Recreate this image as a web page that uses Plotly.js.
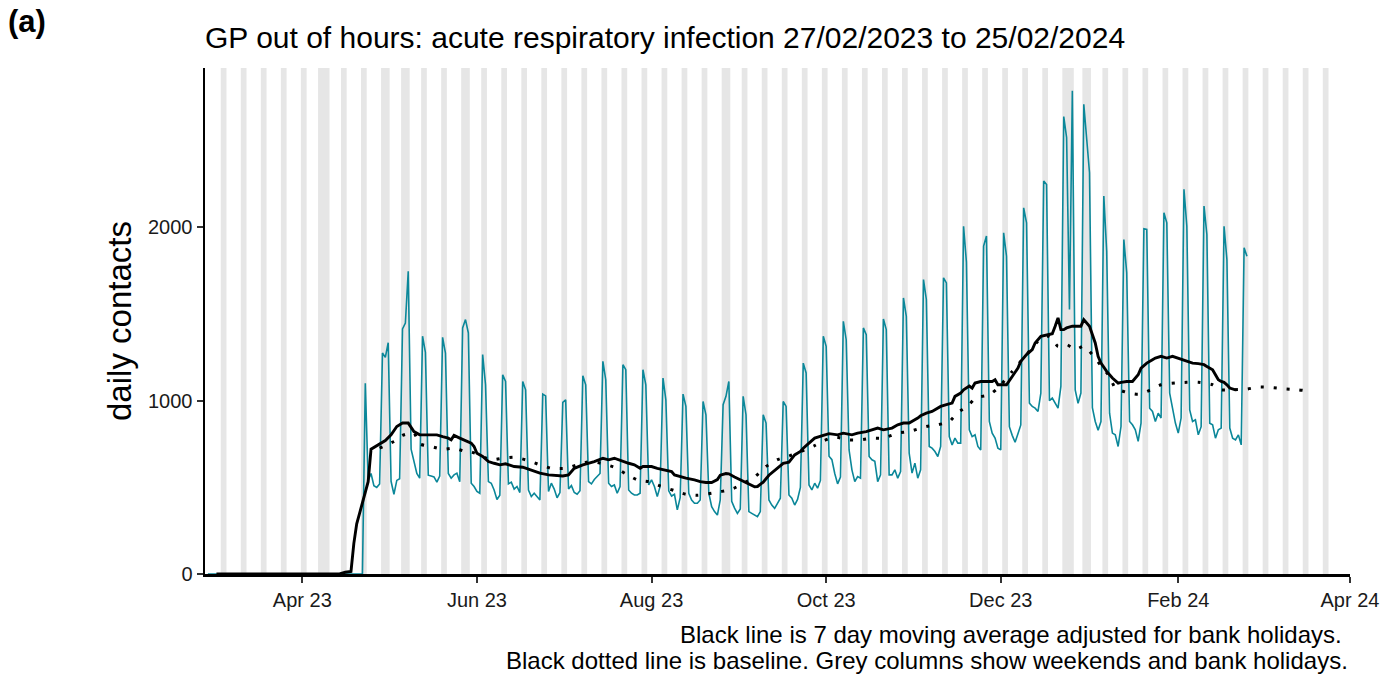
<!DOCTYPE html>
<html><head><meta charset="utf-8">
<script src="https://cdn.plot.ly/plotly-3.0.1.min.js"></script>
<style>html,body{margin:0;padding:0;background:#fff}#chart{width:1391px;height:675px}</style>
</head><body><div id="chart"></div>
<script>
// ---------------- DATA ----------------
const seriesStart = "2023-02-27"; // first day of daily series (Monday)
// daily contacts, one row per week Mon..Sun
const dailyContacts = [
  0,0,0,0,0,0,0,            // 27 Feb
  0,0,0,0,0,0,0,            // 6 Mar
  0,0,0,0,0,0,0,            // 13 Mar
  0,0,0,0,0,0,0,            // 20 Mar
  0,0,0,0,0,0,0,            // 27 Mar
  0,0,0,0,0,0,0,            // 3 Apr
  0,0,0,0,0,0,0,            // 10 Apr
  0,0,0,0,0,0,1100,         // 17 Apr
  540,580,510,500,520,1275,1250,   // 24 Apr
  1335,535,460,540,550,1414,1448,  // 1 May
  1747,720,650,580,553,1372,1279,  // 8 May
  570,565,560,530,565,1366,1275,   // 15 May
  580,553,572,582,533,1420,1468,   // 22 May
  1391,524,505,476,466,1266,1092,  // 29 May
  533,524,485,430,455,1150,1111,   // 5 Jun
  520,530,490,505,470,1111,1063,   // 12 Jun
  485,447,466,447,427,1038,1028,   // 19 Jun
  476,524,490,440,470,990,1005,    // 26 Jun
  490,510,470,460,480,1144,1092,   // 3 Jul
  533,520,545,560,580,1227,1121,   // 10 Jul
  524,505,514,466,505,1208,1179,   // 17 Jul
  485,466,456,456,466,1179,1092,   // 24 Jul
  514,543,505,447,505,1131,1005,   // 31 Jul
  480,450,460,370,440,1038,967,    // 7 Aug
  466,427,408,408,427,996,919,     // 14 Aug
  466,389,360,340,427,977,1025,    // 21 Aug
  1111,420,380,350,375,1025,919,   // 28 Aug
  360,350,340,331,360,919,871,     // 4 Sep
  427,398,379,408,437,996,967,     // 11 Sep
  456,437,398,430,500,1217,1160,   // 18 Sep
  514,485,524,495,540,1372,1314,   // 25 Sep
  680,660,580,520,560,1458,1352,   // 2 Oct
  716,601,533,562,553,1420,1381,   // 9 Oct
  678,659,650,533,572,1472,1410,   // 16 Oct
  572,572,601,553,591,1593,1487,   // 23 Oct
  697,582,640,553,601,1699,1584,   // 30 Oct
  736,726,707,678,736,1709,1680,   // 6 Nov
  793,745,784,755,755,2007,1800,   // 13 Nov
  832,793,803,736,716,1892,1950,   // 20 Nov
  880,813,784,726,716,1969,1834,   // 27 Nov
  850,800,760,810,860,2113,2027,   // 4 Dec
  986,967,957,938,1044,2268,2248,  // 11 Dec
  1000,1015,986,957,1083,2640,2518,  // 18 Dec
  1526,2788,1063,985,1044,2711,2528, // 25 Dec
  2316,960,880,830,880,2181,1863,  // 1 Jan
  928,813,803,736,851,1930,1738,   // 8 Jan
  880,861,832,765,870,1992,1988,   // 15 Jan
  957,938,880,928,900,2085,2027,   // 22 Jan
  1044,957,871,813,900,2220,2007,  // 29 Jan
  947,880,890,803,850,2123,1959,   // 5 Feb
  870,861,784,832,842,2007,1815,   // 12 Feb
  842,784,774,803,745,1882,1834    // 19 Feb
];

// 7 day moving average (black line)
const maDates = ["2023-03-02","2023-04-14","2023-04-16","2023-04-18","2023-04-19","2023-04-20","2023-04-21","2023-04-22","2023-04-23","2023-04-24","2023-04-25","2023-04-26","2023-04-28","2023-04-30","2023-05-02","2023-05-04","2023-05-06","2023-05-08","2023-05-10","2023-05-12","2023-05-15","2023-05-18","2023-05-20","2023-05-22","2023-05-23","2023-05-24","2023-05-26","2023-05-28","2023-05-30","2023-05-31","2023-06-01","2023-06-03","2023-06-05","2023-06-07","2023-06-09","2023-06-11","2023-06-14","2023-06-17","2023-06-20","2023-06-23","2023-06-26","2023-06-29","2023-07-01","2023-07-03","2023-07-05","2023-07-08","2023-07-10","2023-07-12","2023-07-15","2023-07-17","2023-07-19","2023-07-22","2023-07-24","2023-07-26","2023-07-28","2023-07-29","2023-08-01","2023-08-03","2023-08-06","2023-08-08","2023-08-09","2023-08-11","2023-08-13","2023-08-16","2023-08-18","2023-08-20","2023-08-22","2023-08-24","2023-08-25","2023-08-27","2023-08-28","2023-08-30","2023-09-01","2023-09-02","2023-09-04","2023-09-06","2023-09-07","2023-09-09","2023-09-11","2023-09-14","2023-09-16","2023-09-18","2023-09-20","2023-09-22","2023-09-23","2023-09-25","2023-09-27","2023-09-30","2023-10-02","2023-10-05","2023-10-07","2023-10-10","2023-10-12","2023-10-15","2023-10-17","2023-10-19","2023-10-21","2023-10-23","2023-10-24","2023-10-26","2023-10-28","2023-10-30","2023-10-31","2023-11-02","2023-11-03","2023-11-05","2023-11-07","2023-11-09","2023-11-10","2023-11-12","2023-11-14","2023-11-15","2023-11-17","2023-11-18","2023-11-20","2023-11-21","2023-11-22","2023-11-24","2023-11-26","2023-11-28","2023-11-29","2023-11-30","2023-12-02","2023-12-03","2023-12-05","2023-12-07","2023-12-08","2023-12-10","2023-12-12","2023-12-13","2023-12-15","2023-12-17","2023-12-19","2023-12-20","2023-12-21","2023-12-22","2023-12-23","2023-12-24","2023-12-26","2023-12-27","2023-12-29","2023-12-30","2023-12-31","2024-01-01","2024-01-03","2024-01-04","2024-01-05","2024-01-07","2024-01-09","2024-01-11","2024-01-12","2024-01-14","2024-01-16","2024-01-18","2024-01-19","2024-01-21","2024-01-23","2024-01-24","2024-01-26","2024-01-28","2024-01-30","2024-02-01","2024-02-02","2024-02-04","2024-02-06","2024-02-08","2024-02-10","2024-02-11","2024-02-13","2024-02-14","2024-02-15","2024-02-16","2024-02-17","2024-02-18","2024-02-19","2024-02-21"];
const maValues = [0,0,10,15,177,290,350,410,480,533,720,730,745,770,803,851,871,871,822,803,803,803,793,784,774,800,784,770,755,736,697,678,649,639,630,636,620,616,601,582,572,566,566,572,610,630,639,649,668,659,668,649,639,630,610,620,620,610,601,591,572,562,553,543,533,528,528,545,570,580,578,560,545,535,520,503,505,530,570,610,639,645,687,707,726,755,784,800,810,803,813,803,813,822,832,842,832,836,842,861,871,871,880,900,913,928,938,957,967,977,986,1025,1044,1063,1085,1073,1102,1111,1111,1111,1121,1092,1092,1092,1140,1188,1227,1266,1295,1333,1372,1381,1387,1430,1478,1410,1410,1420,1430,1430,1430,1468,1449,1430,1333,1256,1217,1169,1131,1102,1106,1111,1111,1150,1188,1217,1237,1246,1256,1246,1256,1246,1237,1227,1217,1214,1208,1198,1179,1150,1121,1111,1106,1092,1073,1063];

// baseline (black dotted line)
const baselineDates = ["2023-04-28","2023-05-03","2023-05-06","2023-05-10","2023-05-12","2023-05-16","2023-05-20","2023-05-24","2023-05-28","2023-05-30","2023-06-06","2023-06-10","2023-06-14","2023-06-18","2023-06-23","2023-06-27","2023-07-02","2023-07-06","2023-07-11","2023-07-19","2023-07-23","2023-07-27","2023-07-31","2023-08-04","2023-08-09","2023-08-13","2023-08-17","2023-08-22","2023-08-29","2023-09-06","2023-09-10","2023-09-14","2023-09-18","2023-09-27","2023-09-30","2023-10-04","2023-10-09","2023-10-13","2023-10-17","2023-10-21","2023-10-26","2023-10-30","2023-11-05","2023-11-09","2023-11-13","2023-11-16","2023-11-20","2023-11-22","2023-11-27","2023-11-30","2023-12-05","2023-12-10","2023-12-14","2023-12-18","2023-12-21","2023-12-24","2023-12-27","2023-12-30","2024-01-02","2024-01-05","2024-01-08","2024-01-10","2024-01-14","2024-01-18","2024-01-22","2024-01-26","2024-01-31","2024-02-04","2024-02-08","2024-02-13","2024-02-16","2024-02-20","2024-02-25","2024-02-29","2024-03-04","2024-03-09","2024-03-14","2024-03-18"];
const baselineValues = [726,765,800,813,751,736,720,726,707,705,659,668,674,659,630,610,610,630,649,616,578,543,533,508,481,460,454,466,490,560,620,660,680,741,768,790,774,774,784,784,813,822,851,861,880,932,977,1015,1034,1073,1169,1266,1343,1372,1314,1324,1295,1314,1266,1202,1140,1073,1048,1038,1060,1092,1102,1106,1106,1092,1063,1063,1067,1079,1077,1069,1063,1054];

// grey columns: weekends plus these bank holidays
const bankHolidays = ["2023-04-07","2023-04-10","2023-05-01","2023-05-08","2023-05-29","2023-08-28","2023-12-25","2023-12-26","2024-01-01"];
const shadeFrom = "2023-02-27";
const shadeTo = "2024-03-24";

// axes
const xTickDates = ["2023-04-01","2023-06-01","2023-08-01","2023-10-01","2023-12-01","2024-02-01","2024-04-01"];
const xTickLabels = ["Apr 23","Jun 23","Aug 23","Oct 23","Dec 23","Feb 24","Apr 24"];
const yTickValues = [0,1000,2000];
const xRange = ["2023-02-26","2024-04-01"];
const yRange = [0,2920];

// ---------------- BUILD ----------------
function addDays(iso, n){const d=new Date(iso+"T00:00:00Z");d.setUTCDate(d.getUTCDate()+n);return d.toISOString().slice(0,10);}
const dailyDates = dailyContacts.map((_,i)=>addDays(seriesStart,i));

// shaded runs
const runs=[];
let runStart=null, prev=null;
for(let day=shadeFrom; day<=shadeTo; day=addDays(day,1)){
  const wd=new Date(day+"T00:00:00Z").getUTCDay();
  const shaded = wd===0||wd===6||bankHolidays.includes(day);
  if(shaded){ if(runStart===null) runStart=day; prev=day; }
  else if(runStart!==null){ runs.push([runStart,prev]); runStart=null; }
}
if(runStart!==null) runs.push([runStart,prev]);
const shapeObjs = runs.map(([a,b])=>({type:'rect',xref:'x',yref:'paper',
  x0:addDays(a,-1)+" 12:00", x1:b+" 12:00", y0:0, y1:1,
  fillcolor:'#e6e6e6', line:{width:0}, layer:'below'}));

const traces=[
  {x:dailyDates, y:dailyContacts, type:'scatter', mode:'lines',
   line:{color:'#0b8799', width:1.6}, hoverinfo:'x+y', name:'daily contacts'},
  {x:baselineDates, y:baselineValues, type:'scatter', mode:'lines',
   line:{color:'#000', width:3, dash:'3px,10px', shape:'spline', smoothing:0.6}, name:'baseline'},
  {x:maDates, y:maValues, type:'scatter', mode:'lines',
   line:{color:'#000', width:2.9}, name:'7 day moving average'}
];

const layout={
  width:1391, height:675,
  margin:{l:205, r:41, t:68, b:101},
  paper_bgcolor:'#fff', plot_bgcolor:'#fff',
  showlegend:false,
  font:{family:'"Liberation Sans", Arial, sans-serif', color:'#000'},
  title:{text:'GP out of hours: acute respiratory infection 27/02/2023 to 25/02/2024',
    font:{size:30, color:'#000'}, x:0, xref:'paper', xanchor:'left',
    y:1-37/675, yref:'container', yanchor:'middle'},
  xaxis:{type:'date', range:xRange, tickvals:xTickDates, ticktext:xTickLabels,
    ticks:'outside', ticklen:6, tickwidth:2, tickcolor:'#333',
    showline:true, linecolor:'#000', linewidth:2.5, showgrid:false, zeroline:false,
    tickfont:{size:20, color:'#1a1a1a'}},
  yaxis:{range:yRange, tickvals:yTickValues, ticks:'outside', ticklen:6, tickwidth:2, tickcolor:'#333',
    showline:true, linecolor:'#000', linewidth:2.5, showgrid:false, zeroline:false,
    tickfont:{size:20, color:'#1a1a1a'},
    title:{text:'daily contacts', font:{size:33, color:'#000'}, standoff:7}},
  shapes:shapeObjs,
  annotations:[
    {text:'<b>(a)</b>', xref:'paper', yref:'paper', x:-0.1735, y:(574-21)/506, xanchor:'left', yanchor:'middle', showarrow:false, font:{size:31, color:'#000'}},
    {text:'Black line is 7 day moving average adjusted for bank holidays.\u00a0', xref:'paper', yref:'paper', x:1, y:(574-634)/506, xanchor:'right', yanchor:'middle', showarrow:false, font:{size:24, color:'#000'}},
    {text:'Black dotted line is baseline. Grey columns show weekends and bank holidays.', xref:'paper', yref:'paper', x:1, y:(574-660)/506, xanchor:'right', yanchor:'middle', showarrow:false, font:{size:24, color:'#000'}}
  ]
};
Plotly.newPlot('chart', traces, layout, {staticPlot:true, displayModeBar:false});
</script></body></html>
